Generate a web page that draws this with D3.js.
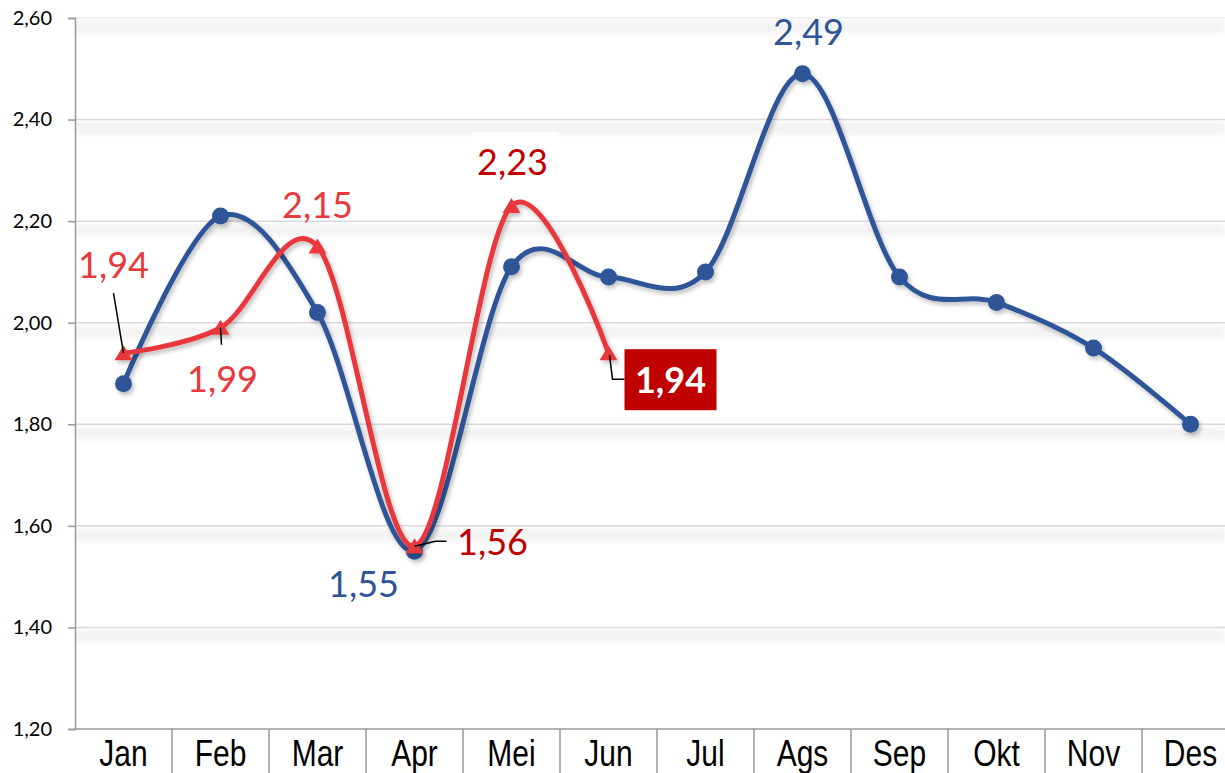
<!DOCTYPE html>
<html>
<head>
<meta charset="utf-8">
<script src="https://cdn.jsdelivr.net/npm/d3@7"></script>
<style>
  body { margin: 0; background: #fff; }
  svg { display: block; }
</style>
</head>
<body>
<svg id="chart" width="1225" height="773"></svg>
<script>
// Monthly values, two years compared
const months = ["Jan", "Feb", "Mar", "Apr", "Mei", "Jun", "Jul", "Ags", "Sep", "Okt", "Nov", "Des"];
const seriesBlue = [1.88, 2.21, 2.02, 1.55, 2.11, 2.09, 2.10, 2.49, 2.09, 2.04, 1.95, 1.80];
const seriesRed = [1.94, 1.99, 2.15, 1.56, 2.23, 1.94];
const yTicks = [1.20, 1.40, 1.60, 1.80, 2.00, 2.20, 2.40, 2.60];

// Which points carry a value label (by month index)
const blueLabelIdx = [3, 7];
const redLabelIdx = [0, 1, 2, 3, 4, 5];

// Label placement relative to the point: dx/dy to label anchor (centre x, baseline y),
// optional leader polyline (relative points), colour and box style
const blueLabelStyle = {
  3: { dx: -51, dy: 46, color: "#2F5597" },
  7: { dx: 6, dy: -29, color: "#2F5597" }
};
const redLabelStyle = {
  0: { dx: -10, dy: -75, color: "#E8393D", leader: [[-10, -60], [0, 0]] },
  1: { dx: 2, dy: 64, color: "#E8393D", leader: [[0, 0], [1, 17]] },
  2: { dx: 0, dy: -29, color: "#E8393D" },
  3: { dx: 78, dy: 9, color: "#C00000", leader: [[0, 0], [21, -5], [32, -5]] },
  4: { dx: 1, dy: -31, color: "#C00000", bg: "#ffffff" },
  5: { dx: 62, dy: 40, color: "#ffffff", bold: true, box: "#C00000",
       leader: [[1, 2], [4, 26], [16, 26]] }
};

const W = 1225, H = 773;
const svg = d3.select("#chart");
const defs = svg.append("defs");

const shadow = defs.append("filter").attr("id", "shadow")
  .attr("x", "-20%").attr("y", "-20%").attr("width", "140%").attr("height", "140%");
shadow.append("feDropShadow").attr("dx", 2).attr("dy", 3)
  .attr("stdDeviation", 2).attr("flood-color", "#000").attr("flood-opacity", 0.25);

const soft = defs.append("filter").attr("id", "soft")
  .attr("x", "-5%").attr("y", "-100%").attr("width", "110%").attr("height", "300%");
soft.append("feGaussianBlur").attr("stdDeviation", 2.5);

const x = d3.scaleBand().domain(months).range([75, 75 + 12 * 97]).padding(0);
const y = d3.scaleLinear().domain([1.2, 2.6]).range([729, 18]);
const cx = m => x(m) + x.bandwidth() / 2;

const locale = d3.formatLocale({ decimal: ",", thousands: ".", grouping: [3], currency: ["", ""] });
const fmt = locale.format(".2f");

// Gridlines with a soft band beneath each line
const grid = svg.append("g");
yTicks.filter(t => t > 1.2).forEach(t => {
  grid.append("rect")
    .attr("x", 75).attr("y", y(t) + 3).attr("width", W - 75).attr("height", 12)
    .attr("fill", "#f3f3f3").attr("filter", "url(#soft)");
  grid.append("line")
    .attr("x1", 75).attr("x2", W).attr("y1", y(t)).attr("y2", y(t))
    .attr("stroke", t === 2.6 ? "#ececec" : "#d9d9d9").attr("stroke-width", 1.5);
});

// Y axis
const yAxis = svg.append("g").attr("transform", "translate(75,0)")
  .call(d3.axisLeft(y).tickValues(yTicks).tickSize(7).tickPadding(16).tickFormat(fmt));
yAxis.select(".domain").attr("stroke", "#999").attr("stroke-width", 1.5);
yAxis.selectAll(".tick line").attr("stroke", "#999").attr("stroke-width", 1.5);
yAxis.selectAll(".tick text")
  .attr("font-family", "Lato, 'Noto Sans', sans-serif").attr("font-size", 20).attr("fill", "#000");

// X axis with category separators
const xAxis = svg.append("g").attr("transform", "translate(0,729)")
  .call(d3.axisBottom(x).tickSize(0).tickPadding(10));
xAxis.select(".domain").remove();
xAxis.append("line").attr("x1", 75).attr("x2", W).attr("y1", 0).attr("y2", 0)
  .attr("stroke", "#999").attr("stroke-width", 1.5);
xAxis.selectAll(".sep").data(months.slice(1)).enter().append("line")
  .attr("x1", d => x(d)).attr("x2", d => x(d)).attr("y1", 0).attr("y2", 50)
  .attr("stroke", "#999").attr("stroke-width", 1.5);
// condensed category labels
xAxis.selectAll(".tick text")
  .attr("font-family", "'Liberation Sans', Arial, sans-serif")
  .attr("font-size", 37).attr("fill", "#000")
  .attr("dy", 0).attr("y", 37)
  .attr("transform", "scale(0.81,1)");

// Series lines
const line = d3.line()
  .x((d, i) => cx(months[i]))
  .y(d => y(d))
  .curve(d3.curveCardinal.tension(0));

const triangle = "M0,-8L9,7L-9,7Z";

// Blue series
const gBlue = svg.append("g").attr("filter", "url(#shadow)");
gBlue.append("path").datum(seriesBlue).attr("d", line)
  .attr("fill", "none").attr("stroke", "#2F5597").attr("stroke-width", 5)
  .attr("stroke-linecap", "round");
gBlue.selectAll("circle").data(seriesBlue).enter().append("circle")
  .attr("cx", (d, i) => cx(months[i])).attr("cy", d => y(d)).attr("r", 8.5)
  .attr("fill", "#2F5597");

// Red series
const gRed = svg.append("g").attr("filter", "url(#shadow)");
gRed.append("path").datum(seriesRed).attr("d", line)
  .attr("fill", "none").attr("stroke", "#E8393D").attr("stroke-width", 5)
  .attr("stroke-linecap", "round");
gRed.selectAll("path.mk").data(seriesRed).enter().append("path").attr("class", "mk")
  .attr("d", triangle)
  .attr("transform", (d, i) => `translate(${cx(months[i])},${y(d)})`)
  .attr("fill", "#E8393D");

// Value labels
const labels = svg.append("g")
  .attr("font-family", "Lato, 'Noto Sans', sans-serif").attr("font-size", 36)
  .attr("text-anchor", "middle");

function drawLabels(values, idxs, styles) {
  idxs.forEach(i => {
    const px = cx(months[i]), py = y(values[i]);
    const s = styles[i];
    if (s.leader) {
      labels.append("path")
        .attr("d", d3.line()(s.leader.map(p => [px + p[0], py + p[1]])))
        .attr("fill", "none").attr("stroke", "#000").attr("stroke-width", 1.5);
    }
    const lx = px + s.dx, ly = py + s.dy;
    if (s.box) {
      labels.append("rect").attr("x", lx - 46).attr("y", ly - 44).attr("width", 92).attr("height", 61)
        .attr("fill", s.box);
    }
    if (s.bg) {
      labels.append("rect").attr("x", lx - 40).attr("y", ly - 43).attr("width", 86).attr("height", 52)
        .attr("fill", s.bg);
    }
    labels.append("text").attr("x", lx).attr("y", ly)
      .attr("fill", s.color).attr("font-weight", s.bold ? 700 : 400)
      .text(fmt(values[i]));
  });
}
drawLabels(seriesBlue, blueLabelIdx, blueLabelStyle);
drawLabels(seriesRed, redLabelIdx, redLabelStyle);
</script>
</body>
</html>
